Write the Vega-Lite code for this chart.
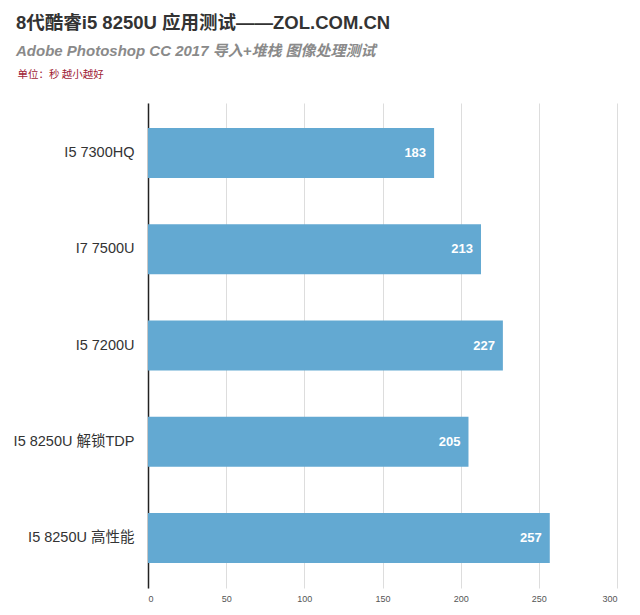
{
  "$schema": "https://vega.github.io/schema/vega-lite/v6.json",
  "autosize": "none",
  "width": 469,
  "height": 485,
  "padding": {"left": 148, "top": 103, "right": 23, "bottom": 27},
  "background": "white",
  "title": {
    "text": "8代酷睿i5 8250U 应用测试——ZOL.COM.CN",
    "subtitle": "Adobe Photoshop CC 2017 导入+堆栈 图像处理测试",
    "anchor": "start",
    "frame": "group",
    "dx": -132,
    "font": "Liberation Sans, Noto Sans CJK SC",
    "fontSize": 18.5,
    "fontWeight": "bold",
    "color": "#333333",
    "subtitleFont": "Liberation Sans, Noto Sans CJK SC",
    "subtitleFontSize": 15,
    "subtitleFontWeight": "bold",
    "subtitleFontStyle": "italic",
    "subtitleColor": "#8a8a8a",
    "subtitlePadding": 12,
    "offset": 10
  },
  "data": {
    "values": [
      {"cpu": "I5 7300HQ", "time": 183},
      {"cpu": "I7 7500U", "time": 213},
      {"cpu": "I5 7200U", "time": 227},
      {"cpu": "I5 8250U 解锁TDP", "time": 205},
      {"cpu": "I5 8250U 高性能", "time": 257}
    ]
  },
  "encoding": {
    "y": {
      "field": "cpu",
      "type": "nominal",
      "sort": null,
      "scale": {"paddingInner": 0.48, "paddingOuter": 0.26},
      "axis": {
        "title": "单位：秒 越小越好",
        "titleAngle": 0,
        "titleAlign": "left",
        "titleBaseline": "alphabetic",
        "titleX": -131,
        "titleY": -26,
        "titleFont": "Noto Sans CJK SC",
        "titleFontSize": 10.5,
        "titleFontWeight": "normal",
        "titleColor": "#a01c34",
        "labelFont": "Liberation Sans, Noto Sans CJK SC",
        "labelFontSize": 14.5,
        "labelColor": "#333333",
        "labelPadding": 14,
        "ticks": false,
        "domainColor": "#222222",
        "domainWidth": 1.5,
        "grid": false
      }
    },
    "x": {
      "field": "time",
      "type": "quantitative",
      "scale": {"domain": [0, 300]},
      "axis": {
        "title": null,
        "values": [0, 50, 100, 150, 200, 250, 300],
        "grid": true,
        "gridColor": "#dddddd",
        "domain": false,
        "ticks": false,
        "labelFont": "Liberation Sans",
        "labelFontSize": 9,
        "labelColor": "#555555",
        "labelPadding": 6
      }
    }
  },
  "layer": [
    {"mark": {"type": "bar", "color": "#63a9d2"}},
    {
      "mark": {"type": "text", "align": "right", "dx": -8, "color": "white", "fontWeight": "bold", "fontSize": 13, "font": "Liberation Sans"},
      "encoding": {"text": {"field": "time", "type": "quantitative"}}
    }
  ],
  "config": {"view": {"stroke": null}}
}
